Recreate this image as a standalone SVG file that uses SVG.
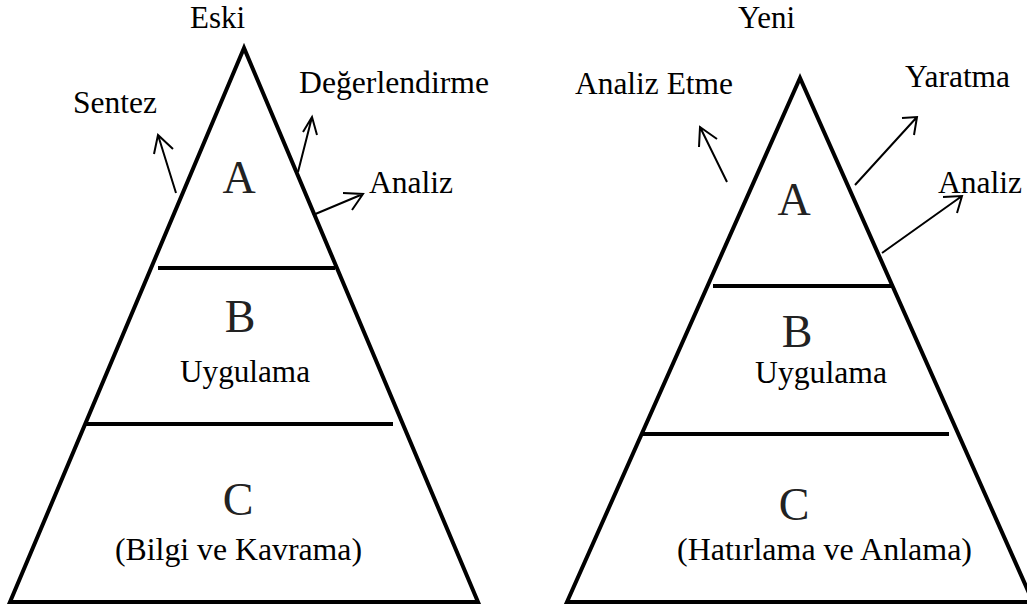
<svg xmlns="http://www.w3.org/2000/svg" width="1027" height="607" viewBox="0 0 1027 607">
<style>
.t{font-family:"Liberation Serif","Times New Roman",serif;font-size:31px;fill:#000}
.L{font-family:"Liberation Serif","Times New Roman",serif;font-size:46px;fill:#222;text-anchor:middle}
.s{fill:none;stroke:#000;stroke-width:4;stroke-linejoin:miter}
.a{fill:none;stroke:#000;stroke-width:2}
</style>
<rect width="1027" height="607" fill="#fff"/>
<g id="eski">
<polygon class="s" points="244,48 10,602 478,602"/>
<line class="s" x1="158" y1="268" x2="335" y2="268"/>
<line class="s" x1="86" y1="424" x2="393" y2="424"/>
<text class="t" x="190" y="28" textLength="55" lengthAdjust="spacingAndGlyphs">Eski</text>
<text class="L" x="239" y="193">A</text>
<text class="L" x="240" y="332">B</text>
<text class="t" x="180" y="382" textLength="130" lengthAdjust="spacingAndGlyphs">Uygulama</text>
<text class="L" x="238" y="515">C</text>
<text class="t" x="115" y="560" textLength="247" lengthAdjust="spacingAndGlyphs">(Bilgi ve Kavrama)</text>
<text class="t" x="73" y="113" textLength="84" lengthAdjust="spacingAndGlyphs">Sentez</text>
<text class="t" x="299" y="93" textLength="190" lengthAdjust="spacingAndGlyphs">Değerlendirme</text>
<text class="t" x="369" y="193" textLength="84" lengthAdjust="spacingAndGlyphs">Analiz</text>
</g>
<g id="yeni">
<polygon class="s" points="800,78 567,602 1033,602"/>
<line class="s" x1="713" y1="286" x2="892" y2="286"/>
<line class="s" x1="643" y1="434" x2="949" y2="434"/>
<text class="t" x="738" y="28" textLength="57" lengthAdjust="spacingAndGlyphs">Yeni</text>
<text class="L" x="794" y="215">A</text>
<text class="L" x="797" y="347">B</text>
<text class="t" x="755" y="383" textLength="132" lengthAdjust="spacingAndGlyphs">Uygulama</text>
<text class="L" x="794" y="520">C</text>
<text class="t" x="677" y="560" textLength="295" lengthAdjust="spacingAndGlyphs">(Hatırlama ve Anlama)</text>
<text class="t" x="575" y="94" textLength="158" lengthAdjust="spacingAndGlyphs">Analiz Etme</text>
<text class="t" x="905" y="87" textLength="105" lengthAdjust="spacingAndGlyphs">Yaratma</text>
<text class="t" x="938" y="193" textLength="84" lengthAdjust="spacingAndGlyphs">Analiz</text>
</g>
<g id="connectors">
<path class="a" d="M176,193 L158,135 M154,154 L158,135 L173,149"/>
<path class="a" d="M298,172 L312,117 M303,132 L312,117 L317,135"/>
<path class="a" d="M313,215 L363,194 M343,193 L363,194 L352,210"/>
<path class="a" d="M727,182 L700,127 M699,147 L700,127 L717,139"/>
<path class="a" d="M855,185 L917,117 M902,118 L917,117 L914,135"/>
<path class="a" d="M882,253 L962,196 M943,197 L962,196 L957,213"/>
</g>
</svg>
